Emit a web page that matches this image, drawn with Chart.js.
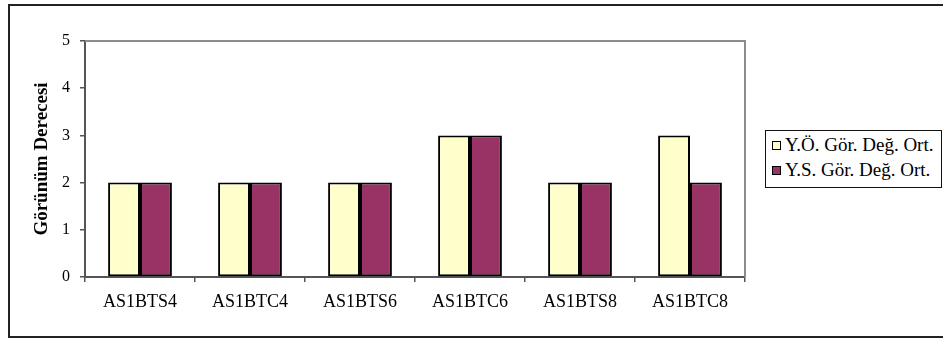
<!DOCTYPE html>
<html>
<head>
<meta charset="utf-8">
<script src="https://cdn.jsdelivr.net/npm/chart.js@4.4.1/dist/chart.umd.min.js"></script>
<style>
  html, body { margin: 0; padding: 0; background: #fff; }
  #wrap { position: relative; width: 943px; height: 341px; overflow: hidden; }
  #frame { position: absolute; left: 8px; top: 4px; width: 960px; height: 334px; border: 2px solid #222; box-sizing: border-box; }
  canvas { position: absolute; left: 0; top: 0; }
  #legend { position: absolute; left: 765px; top: 130px; width: 177px; height: 58px; border: 1px solid #111; box-sizing: border-box; background: #fff;
            font-family: "Liberation Serif", Tinos, "Times New Roman", "DejaVu Serif", serif; font-size: 19px; color: #000; }
  .item { position: absolute; left: 6px; height: 22px; line-height: 22px; white-space: nowrap; }
  .sw { display: inline-block; width: 9px; height: 9px; border: 1.5px solid #000; box-sizing: border-box; margin-right: 4px; vertical-align: 1px; }
</style>
</head>
<body>
<div id="wrap">
  <div id="frame"></div>
  <canvas id="c" width="943" height="341"></canvas>
  <div id="legend"></div>
</div>
<script>
const categories = ["AS1BTS4", "AS1BTC4", "AS1BTS6", "AS1BTC6", "AS1BTS8", "AS1BTC8"];
const seriesNames = ["Y.Ö. Gör. Değ. Ort.", "Y.S. Gör. Değ. Ort."];
const yoValues = [2, 2, 2, 3, 2, 3];
const ysValues = [2, 2, 2, 3, 2, 2];
const yTicks = [0, 1, 2, 3, 4, 5];
const yTitle = "Görünüm Derecesi";
const colors = ["#FFFFCC", "#993366"];

const serif = "Liberation Serif, Tinos, Times New Roman, DejaVu Serif, serif";

// grey frame around the plot area (top and right sides)
const plotFrame = {
  id: 'plotFrame',
  beforeDatasetsDraw(chart) {
    const a = chart.chartArea, ctx = chart.ctx;
    ctx.save();
    ctx.strokeStyle = '#8c8c8c';
    ctx.lineWidth = 2;
    ctx.beginPath();
    ctx.moveTo(a.left, a.top);
    ctx.lineTo(a.right, a.top);
    ctx.lineTo(a.right, a.bottom);
    ctx.stroke();
    ctx.restore();
  }
};

new Chart(document.getElementById('c'), {
  type: 'bar',
  data: {
    labels: categories,
    datasets: [
      { label: seriesNames[0], data: yoValues, backgroundColor: colors[0], borderColor: '#000', borderWidth: 2, borderSkipped: false },
      { label: seriesNames[1], data: ysValues, backgroundColor: colors[1], borderColor: '#000', borderWidth: 2, borderSkipped: false }
    ]
  },
  options: {
    responsive: false,
    animation: false,
    devicePixelRatio: 1,
    layout: { padding: { left: 0, top: 41, right: 198, bottom: 0 } },
    plugins: { legend: { display: false }, tooltip: { enabled: false } },
    datasets: { bar: { categoryPercentage: 0.58, barPercentage: 1.0 } },
    scales: {
      x: {
        grid: { display: true, drawOnChartArea: false, drawTicks: true, tickLength: 5, color: '#555', lineWidth: 1.5, offset: true },
        border: { display: true, color: '#555', width: 2 },
        ticks: { color: '#000', font: { family: serif, size: 18 }, padding: 9, maxRotation: 0 },
        afterFit(s) { s.height = 64; }
      },
      y: {
        min: 0, max: 5,
        afterBuildTicks(s) { s.ticks = yTicks.map(v => ({ value: v })); },
        grid: { display: true, drawOnChartArea: false, drawTicks: true, tickLength: 5, color: '#555', lineWidth: 1.5 },
        border: { display: true, color: '#555', width: 2 },
        ticks: { color: '#000', font: { family: serif, size: 16 }, padding: 10 },
        title: { display: true, text: yTitle, color: '#000', font: { family: serif, size: 19, weight: 'bold' }, padding: { top: 31, bottom: 0 } },
        afterFit(s) { s.width = 85; }
      }
    }
  },
  plugins: [plotFrame]
});

// legend
const legend = document.getElementById('legend');
seriesNames.forEach((name, i) => {
  const item = document.createElement('div');
  item.className = 'item';
  item.style.top = (3 + i * 25) + 'px';
  const sw = document.createElement('span');
  sw.className = 'sw';
  sw.style.background = colors[i];
  item.appendChild(sw);
  item.appendChild(document.createTextNode(name));
  legend.appendChild(item);
});
</script>
</body>
</html>
